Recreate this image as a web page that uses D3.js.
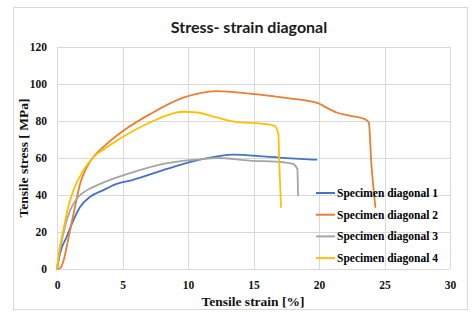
<!DOCTYPE html>
<html>
<head>
<meta charset="utf-8">
<script src="https://cdn.jsdelivr.net/npm/d3@7"></script>
<style>
  body { margin: 0; background: #fff; }
  svg { display: block; }
</style>
</head>
<body>
<svg id="chart"></svg>
<script>
// data (strain %, stress MPa)
var xTicks = [0, 5, 10, 15, 20, 25, 30];
var yTicks = [0, 20, 40, 60, 80, 100, 120];
var seriesNames = ["Specimen diagonal 1", "Specimen diagonal 2", "Specimen diagonal 3", "Specimen diagonal 4"];
var seriesColors = ["#4472c4", "#ed7d31", "#a5a5a5", "#ffc000"];

var spec1 = [[0,0],[0.23,8.4],[0.74,17.4],[1.25,26.3],[1.76,33.5],[2.5,38.9],[3.5,42.5],[4.55,46],[5.8,48.2],
  [8.4,54.1],[10.9,59.1],[13.5,61.8],[16,60.7],[18.5,59.5],[19.8,59.1]];
var spec2 = [[0,0],[0.23,0.4],[0.48,4],[0.74,12],[1.0,21],[1.37,33.5],[1.76,46],[2.27,55],[2.77,60.4],[3.8,67.6],
  [5.06,74.7],[7.1,83.7],[9.64,92.6],[12.2,96.2],[14.7,94.8],[17.3,92.6],[19.8,89.9],[20.8,86.4],[21.35,84.6],
  [22.4,82.8],[23.5,81],[23.8,79.2],[24.0,56.8],[24.3,33.5]];
var spec3 = [[0,0],[0.23,10.2],[0.6,22.7],[1.0,31.7],[1.5,38],[2.27,42.5],[3.3,46],[5.4,51.4],[8.4,57.2],
  [10.9,59.3],[12.2,60],[14.7,58.6],[17.3,57.7],[18.0,56.8],[18.35,54],[18.4,39.8]];
var spec4 = [[0,0],[0.1,6.6],[0.48,21],[0.86,33.5],[1.25,42.5],[2.0,53.2],[2.77,60.4],[3.8,65.8],[5.4,73],
  [7.1,79.2],[9.64,85],[10.7,84.6],[12.2,81.9],[13.5,79.7],[16.0,78.3],[16.6,77.4],[16.9,73],[16.97,56.8],[17.1,33.5]];
var allSeries = [spec1, spec2, spec3, spec4];

var svgWidth = 475, svgHeight = 312;
var margin = { top: 47, right: 25, bottom: 43, left: 57 };
var width = svgWidth - margin.left - margin.right;
var height = svgHeight - margin.top - margin.bottom;

var svg = d3.select("#chart")
    .attr("width", svgWidth)
    .attr("height", svgHeight);

// outer chart frame
svg.append("rect")
    .attr("x", 13.5).attr("y", 7.5)
    .attr("width", 454).attr("height", 302)
    .attr("fill", "#fff")
    .attr("stroke", "#d9d9d9");

svg.append("text")
    .attr("x", 249)
    .attr("y", 33)
    .attr("text-anchor", "middle")
    .attr("font-family", "Lato, 'Open Sans', sans-serif")
    .attr("font-weight", "bold")
    .attr("font-size", "16px")
    .attr("fill", "#1a1a1a")
    .text("Stress- strain diagonal");

var g = svg.append("g")
    .attr("transform", "translate(" + margin.left + "," + margin.top + ")");

var x = d3.scaleLinear().domain([0, 30]).range([0, width]);
var y = d3.scaleLinear().domain([0, 120]).range([height, 0]);

// grid
g.append("g")
    .selectAll("line.h")
    .data(yTicks)
    .join("line")
    .attr("x1", 0).attr("x2", width)
    .attr("y1", function(d) { return Math.round(y(d)) + 0.5; })
    .attr("y2", function(d) { return Math.round(y(d)) + 0.5; })
    .attr("stroke", "#d9d9d9");

g.append("g")
    .selectAll("line.v")
    .data(xTicks)
    .join("line")
    .attr("y1", 0).attr("y2", height)
    .attr("x1", function(d) { return Math.round(x(d)) + 0.5; })
    .attr("x2", function(d) { return Math.round(x(d)) + 0.5; })
    .attr("stroke", "#d9d9d9");

var tickFont = "'Liberation Serif', 'Times New Roman', serif";

g.append("g")
    .attr("transform", "translate(0," + height + ")")
    .call(d3.axisBottom(x).tickValues(xTicks).tickSize(0).tickPadding(12))
    .call(function(a) { a.select(".domain").remove(); })
    .selectAll("text")
    .attr("font-family", tickFont)
    .attr("font-weight", "bold")
    .attr("font-size", "11.5px")
    .attr("fill", "#111");

g.append("g")
    .call(d3.axisLeft(y).tickValues(yTicks).tickSize(0).tickPadding(10))
    .call(function(a) { a.select(".domain").remove(); })
    .selectAll("text")
    .attr("font-family", tickFont)
    .attr("font-weight", "bold")
    .attr("font-size", "11.5px")
    .attr("fill", "#111");

svg.append("text")
    .attr("x", 253)
    .attr("y", 306)
    .attr("text-anchor", "middle")
    .attr("font-family", tickFont)
    .attr("font-weight", "bold")
    .attr("font-size", "13.5px")
    .attr("fill", "#111")
    .text("Tensile strain [%]");

svg.append("text")
    .attr("transform", "translate(28,158) rotate(-90)")
    .attr("text-anchor", "middle")
    .attr("font-family", tickFont)
    .attr("font-weight", "bold")
    .attr("font-size", "13.5px")
    .attr("fill", "#111")
    .text("Tensile stress [ MPa]");

var line = d3.line()
    .x(function(d) { return x(d[0]); })
    .y(function(d) { return y(d[1]); })
    .curve(d3.curveMonotoneX);

g.selectAll("path.series")
    .data(allSeries)
    .join("path")
    .attr("class", "series")
    .attr("fill", "none")
    .attr("stroke", function(d, i) { return seriesColors[i]; })
    .attr("stroke-width", 1.8)
    .attr("stroke-linejoin", "round")
    .attr("stroke-linecap", "round")
    .attr("d", line);

// legend
var legend = svg.append("g")
    .attr("transform", "translate(316,193)");

var item = legend.selectAll("g")
    .data(seriesNames)
    .join("g")
    .attr("transform", function(d, i) { return "translate(0," + (i * 21.7) + ")"; });

item.append("line")
    .attr("x1", 0).attr("x2", 19)
    .attr("stroke", function(d, i) { return seriesColors[i]; })
    .attr("stroke-width", 2);

item.append("text")
    .attr("x", 21)
    .attr("dy", "0.35em")
    .attr("font-family", tickFont)
    .attr("font-weight", "bold")
    .attr("font-size", "11.5px")
    .attr("fill", "#000")
    .text(function(d) { return d; });
</script>
</body>
</html>
